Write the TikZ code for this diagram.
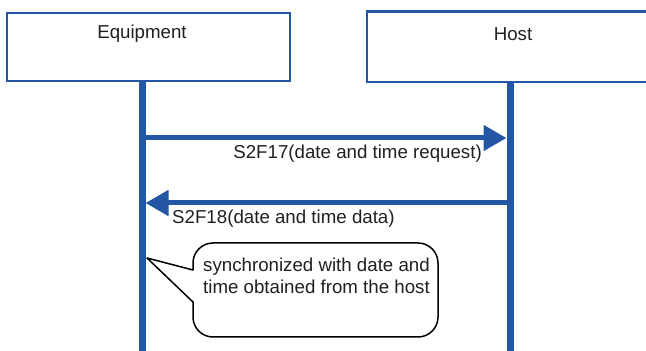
\documentclass[tikz,border=0pt]{standalone}
\usepackage{fontspec}
\setmainfont{Liberation Sans}
\usepackage{xcolor}
\usetikzlibrary{positioning, arrows.meta, calc}
\definecolor{seqblue}{RGB}{36,86,166}
\definecolor{textgray}{RGB}{35,31,32}
\begin{document}
\begin{tikzpicture}[x=1pt, y=1pt,
    every node/.style={text=textgray, font=\fontsize{18.7}{22}\selectfont},
    actor/.style={draw=seqblue, line width=2.5pt, fill=white, rectangle, minimum height=68pt},
    lifeline/.style={draw=seqblue, line width=7pt},
    msg/.style={draw=seqblue, line width=5pt, -{Triangle[length=23pt, width=25pt]}}]
      \useasboundingbox (0,0) rectangle (646,351);

      \node[actor, minimum width=283pt, label={[name=eqlabel, anchor=center, xshift=-6.5pt, yshift=-22pt]north:Equipment}] (eq) at (148.5,304) {};
      % host box runs off the right edge
      \node[actor, draw=none, fill=none, minimum width=278pt, label={[name=hostlabel, anchor=center, xshift=6pt, yshift=-22pt]north:Host}] (host) at (507,304) {};
      \draw[seqblue, line width=2.5pt] (host.north east) -- (host.north west) -- (host.south west) -- (host.south east);

      \coordinate (eqend) at (142,0);
      \coordinate (hostend) at (510,0);
      \draw[lifeline] (eq.south -| eqend) -- (eqend);
      \draw[lifeline] (host.south -| hostend) -- (hostend);

      \coordinate (req1) at (145.5,213);
      \coordinate (req2) at (506.5,213);
      \coordinate (dat1) at (506.5,148);
      \coordinate (dat2) at (145.5,148);
      \draw[msg] (req1) -- (req2);
      \draw[msg] (dat1) -- (dat2);

      \node[anchor=base east, inner sep=0pt] (reqlabel) at (482,192) {S2F17(date and time request)};
      \node[anchor=base west, inner sep=0pt] (datlabel) at (172,127) {S2F18(date and time data)};

      % callout
      \coordinate (tip) at (147,93);
      \draw[line width=1.5pt, fill=white, line join=round]
        (193,81) -- (tip) -- (193,49) -- (193,34) arc[start angle=180, end angle=270, radius=20]
        -- (418,14) arc[start angle=270, end angle=360, radius=20]
        -- (438,88) arc[start angle=0, end angle=90, radius=20]
        -- (213,108) arc[start angle=90, end angle=180, radius=20] -- cycle;
      \node[anchor=north west, inner sep=0pt, align=left] (note) at (203,93) {synchronized with date and\\time obtained from the host};
    \end{tikzpicture}
\end{document}
